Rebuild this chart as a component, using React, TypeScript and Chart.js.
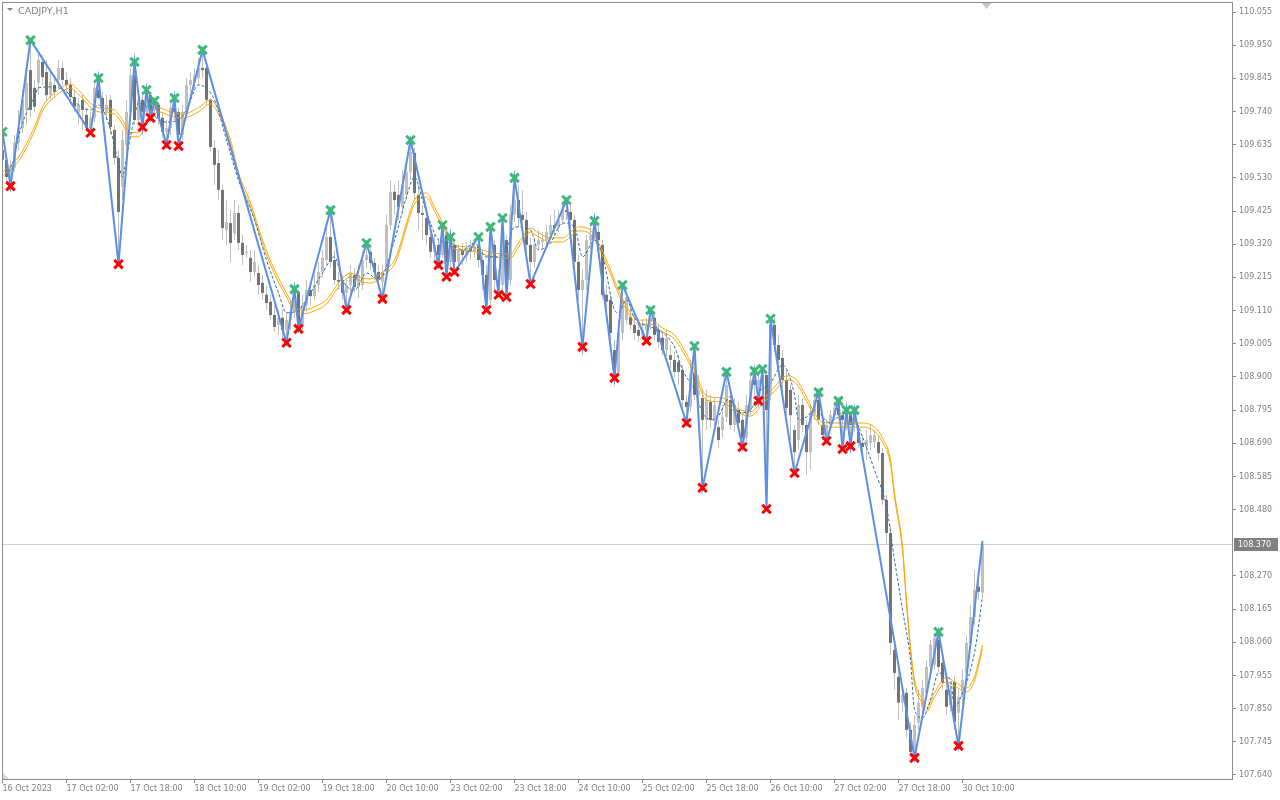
import React, { useEffect, useRef } from "react";
import { Chart, registerables } from "chart.js";

Chart.register(...registerables);

const SYMBOL_TITLE = "CADJPY,H1";
const BID_PRICE = 108.37;

const Y_TICKS = [110.055, 109.95, 109.845, 109.74, 109.635, 109.53, 109.425, 109.32, 109.215, 109.11, 109.005, 108.9, 108.795, 108.69, 108.585, 108.48, 108.27, 108.165, 108.06, 107.955, 107.85, 107.745, 107.64];

const X_TICK_BARS = [0, 16, 32, 48, 64, 80, 96, 112, 128, 144, 160, 176, 192, 208, 224, 240];
const X_TICK_LABELS = ["16 Oct 2023", "17 Oct 02:00", "17 Oct 18:00", "18 Oct 10:00", "19 Oct 02:00", "19 Oct 18:00", "20 Oct 10:00", "23 Oct 02:00", "23 Oct 18:00", "24 Oct 10:00", "25 Oct 02:00", "25 Oct 18:00", "26 Oct 10:00", "27 Oct 02:00", "27 Oct 18:00", "30 Oct 10:00"];

const BAR_OPEN = [109.618,109.587,109.533,109.562,109.641,109.688,109.745,109.871,109.815,109.831,109.897,109.865,109.792,109.824,109.840,109.878,109.840,109.824,109.786,109.736,109.777,109.729,109.688,109.720,109.808,109.783,109.739,109.777,109.682,109.593,109.501,109.634,109.739,109.855,109.713,109.777,109.739,109.792,109.745,109.761,109.720,109.676,109.688,109.752,109.739,109.666,109.745,109.824,109.834,109.846,109.878,109.878,109.777,109.625,109.577,109.492,109.365,109.387,109.355,109.419,109.324,109.292,109.277,109.232,109.229,109.198,109.160,109.138,109.096,109.065,109.087,109.049,109.080,109.106,109.169,109.065,109.128,109.175,109.156,109.191,109.232,109.270,109.343,109.270,109.207,109.207,109.166,109.191,109.223,109.185,109.191,109.270,109.296,109.261,109.232,109.201,109.232,109.381,109.486,109.476,109.438,109.476,109.549,109.609,109.476,109.419,109.403,109.343,109.296,109.318,109.286,109.349,109.264,109.318,109.264,109.302,109.286,109.308,109.296,109.314,109.270,109.223,109.144,109.318,109.207,109.191,109.333,109.207,109.413,109.460,109.413,109.397,109.318,109.264,109.318,109.327,109.333,109.349,109.381,109.371,109.397,109.428,109.422,109.397,109.264,109.175,109.207,109.333,109.349,109.359,109.318,109.160,109.144,108.985,108.913,109.039,109.080,109.090,109.065,109.049,109.030,109.049,109.074,109.087,109.049,109.024,108.985,108.969,108.954,108.947,108.922,108.821,108.805,108.913,108.843,108.833,108.764,108.821,108.764,108.741,108.732,108.773,108.827,108.748,108.795,108.764,108.707,108.795,108.890,108.875,108.890,108.906,108.843,109.065,109.001,108.960,108.890,108.859,108.732,108.700,108.811,108.748,108.662,108.786,108.827,108.748,108.716,108.748,108.779,108.802,108.779,108.764,108.779,108.748,108.726,108.691,108.678,108.691,108.694,108.694,108.659,108.511,108.406,108.036,107.951,107.869,107.900,107.783,107.713,107.805,107.856,107.900,107.982,107.989,108.068,107.995,107.910,107.862,107.935,107.837,107.887,107.963,108.058,108.140,108.236,108.217];

const BAR_HIGH = [109.676,109.602,109.587,109.666,109.745,109.808,109.871,109.966,109.840,109.929,109.919,109.903,109.871,109.855,109.903,109.897,109.865,109.846,109.808,109.783,109.792,109.752,109.739,109.840,109.846,109.802,109.792,109.792,109.697,109.618,109.682,109.777,109.878,109.897,109.792,109.792,109.808,109.802,109.774,109.771,109.739,109.713,109.771,109.783,109.752,109.761,109.846,109.865,109.878,109.910,109.935,109.897,109.783,109.650,109.618,109.508,109.460,109.428,109.460,109.444,109.349,109.318,109.302,109.302,109.254,109.223,109.191,109.160,109.128,109.112,109.112,109.106,109.144,109.178,109.175,109.160,109.207,109.198,109.223,109.264,109.302,109.381,109.428,109.302,109.232,109.223,109.207,109.254,109.245,109.254,109.296,109.324,109.308,109.277,109.254,109.254,109.413,109.523,109.508,109.523,109.555,109.587,109.650,109.625,109.508,109.444,109.428,109.381,109.349,109.340,109.381,109.365,109.343,109.333,109.318,109.324,109.327,109.333,109.333,109.343,109.302,109.254,109.375,109.333,109.239,109.403,109.349,109.444,109.530,109.508,109.492,109.422,109.340,109.340,109.365,109.359,109.381,109.413,109.428,109.428,109.454,109.460,109.444,109.413,109.286,109.239,109.349,109.381,109.394,109.381,109.333,109.191,109.160,109.017,109.080,109.191,109.175,109.128,109.096,109.074,109.080,109.087,109.112,109.106,109.065,109.043,109.049,109.001,108.979,108.969,108.938,108.843,108.954,108.998,108.906,108.859,108.859,108.843,108.833,108.764,108.811,108.916,108.859,108.833,108.821,108.789,108.843,108.906,108.919,108.906,108.925,108.916,109.084,109.087,109.033,108.985,108.922,108.875,108.748,108.843,108.833,108.764,108.811,108.843,108.852,108.770,108.764,108.795,108.821,108.824,108.795,108.795,108.789,108.795,108.748,108.716,108.732,108.748,108.732,108.716,108.675,108.527,108.432,108.068,107.989,107.925,107.916,107.808,107.830,107.910,107.941,108.004,108.068,108.090,108.093,108.020,107.941,107.935,107.954,107.910,107.973,108.083,108.178,108.289,108.258,108.381];

const BAR_LOW = [109.571,109.517,109.504,109.549,109.618,109.673,109.697,109.720,109.739,109.792,109.824,109.777,109.777,109.783,109.815,109.824,109.792,109.771,109.739,109.697,109.682,109.676,109.673,109.707,109.777,109.720,109.713,109.666,109.571,109.257,109.460,109.602,109.713,109.697,109.694,109.691,109.729,109.720,109.729,109.697,109.657,109.634,109.666,109.713,109.631,109.650,109.729,109.802,109.815,109.824,109.846,109.761,109.612,109.508,109.460,109.333,109.318,109.264,109.333,109.302,109.254,109.277,109.201,109.214,109.160,109.144,109.112,109.080,109.043,109.033,109.024,109.008,109.049,109.087,109.052,109.049,109.106,109.128,109.144,109.169,109.214,109.254,109.245,109.191,109.175,109.144,109.112,109.160,109.169,109.150,109.175,109.245,109.239,109.207,109.175,109.147,109.207,109.365,109.413,109.397,109.413,109.460,109.523,109.460,109.365,109.333,109.318,109.277,109.264,109.254,109.277,109.217,109.245,109.232,109.245,109.254,109.264,109.270,109.277,109.245,109.175,109.112,109.128,109.175,109.160,109.175,109.153,109.191,109.390,109.371,109.333,109.286,109.194,109.245,109.302,109.308,109.318,109.333,109.349,109.359,109.381,109.397,109.365,109.239,109.144,108.995,109.175,109.302,109.333,109.308,109.144,109.112,108.998,108.897,108.897,109.017,109.065,109.049,109.017,109.011,109.017,109.014,109.049,109.017,108.992,108.969,108.966,108.928,108.897,108.875,108.795,108.754,108.789,108.827,108.811,108.549,108.732,108.738,108.726,108.675,108.707,108.757,108.732,108.726,108.732,108.678,108.694,108.779,108.843,108.824,108.859,108.482,108.827,108.979,108.922,108.852,108.779,108.700,108.596,108.669,108.726,108.590,108.605,108.764,108.748,108.700,108.697,108.732,108.764,108.764,108.672,108.732,108.681,108.726,108.675,108.653,108.637,108.669,108.675,108.637,108.495,108.368,108.020,107.910,107.815,107.840,107.758,107.698,107.694,107.783,107.830,107.878,107.957,107.973,107.966,107.910,107.830,107.840,107.783,107.732,107.862,107.941,108.036,108.115,108.194,108.201];

const BAR_CLOSE = [109.587,109.533,109.562,109.641,109.688,109.777,109.831,109.745,109.755,109.903,109.849,109.792,109.834,109.802,109.878,109.840,109.824,109.786,109.755,109.761,109.745,109.688,109.720,109.815,109.783,109.739,109.761,109.691,109.593,109.422,109.650,109.739,109.855,109.713,109.777,109.739,109.792,109.745,109.761,109.720,109.676,109.688,109.752,109.739,109.666,109.739,109.824,109.840,109.855,109.878,109.871,109.777,109.628,109.571,109.492,109.371,109.390,109.324,109.419,109.324,109.286,109.296,109.232,109.264,109.191,109.166,109.134,109.096,109.058,109.087,109.049,109.080,109.106,109.169,109.065,109.128,109.175,109.156,109.191,109.232,109.277,109.343,109.264,109.207,109.201,109.166,109.191,109.229,109.185,109.223,109.270,109.286,109.261,109.232,109.207,109.232,109.381,109.486,109.460,109.438,109.508,109.549,109.612,109.482,109.419,109.413,109.349,109.296,109.318,109.286,109.349,109.264,109.318,109.264,109.302,109.286,109.308,109.296,109.314,109.270,109.223,109.138,109.333,109.207,109.191,109.333,109.207,109.413,109.460,109.403,109.397,109.318,109.264,109.318,109.333,109.333,109.359,109.381,109.371,109.397,109.428,109.422,109.397,109.264,109.175,109.207,109.333,109.349,109.365,109.333,109.160,109.138,109.039,108.913,109.039,109.144,109.153,109.065,109.039,109.030,109.049,109.065,109.087,109.033,109.011,108.985,109.024,108.954,108.916,108.916,108.827,108.805,108.913,108.843,108.859,108.764,108.827,108.764,108.811,108.700,108.773,108.875,108.748,108.811,108.754,108.707,108.811,108.890,108.875,108.890,108.906,108.795,109.065,109.001,108.954,108.890,108.802,108.779,108.662,108.811,108.748,108.662,108.786,108.827,108.764,108.716,108.748,108.779,108.802,108.779,108.764,108.779,108.748,108.764,108.691,108.678,108.700,108.716,108.716,108.659,108.511,108.406,108.058,107.963,107.869,107.894,107.783,107.713,107.799,107.869,107.916,107.982,108.052,108.074,107.982,107.932,107.856,107.910,107.808,107.887,107.941,108.058,108.140,108.226,108.220,108.370];

const PIVOT_HIGH_BARS = [0, 7, 24, 33, 36, 38, 43, 50, 73, 82, 91, 102, 110, 112, 119, 122, 125, 128, 141, 148, 155, 162, 173, 181, 188, 190, 192, 204, 209, 211, 213, 234];
const PIVOT_LOW_BARS = [2, 22, 29, 35, 37, 41, 44, 71, 74, 86, 95, 109, 111, 113, 121, 124, 126, 132, 145, 153, 161, 171, 175, 185, 189, 191, 198, 206, 210, 212, 228, 239];

const ORANGE_BARS = [0,4,8,10,13,15,17,19,22,24,28,30,32,34,36,39,42,45,49,52,54,57,59,62,65,68,71,73,75,78,81,84,87,90,92,95,98,99,101,103,106,108,111,113,117,120,123,127,129,132,134,137,140,144,147,149,152,154,157,159,162,165,168,170,173,176,180,183,187,190,193,196,198,201,203,205,208,215,218,220,222,223,225,226,227,228,230,231,233,236,238,241,243,245];
const ORANGE_UPPER = [109.549,109.596,109.691,109.755,109.799,109.818,109.827,109.808,109.767,109.752,109.745,109.713,109.673,109.673,109.713,109.752,109.739,109.732,109.752,109.777,109.745,109.650,109.546,109.451,109.333,109.239,109.166,109.122,109.112,109.122,109.144,109.197,109.229,109.213,109.210,109.232,109.270,109.302,109.387,109.460,109.482,109.438,109.365,109.318,109.311,109.302,109.292,109.289,109.324,109.371,109.356,109.340,109.340,109.375,109.365,109.324,109.239,109.175,109.103,109.080,109.080,109.055,109.033,108.995,108.922,108.840,108.833,108.805,108.789,108.827,108.868,108.903,108.897,108.837,108.786,108.757,108.754,108.754,108.741,108.707,108.637,108.533,108.362,108.194,108.045,107.941,107.878,107.853,107.900,107.948,107.935,107.916,107.951,108.052];
const ORANGE_LOWER = [109.536,109.583,109.678,109.742,109.786,109.805,109.814,109.795,109.754,109.739,109.732,109.700,109.660,109.660,109.700,109.739,109.726,109.719,109.739,109.764,109.732,109.637,109.533,109.438,109.320,109.226,109.153,109.109,109.099,109.109,109.131,109.184,109.216,109.200,109.197,109.219,109.257,109.289,109.374,109.447,109.469,109.425,109.352,109.305,109.298,109.289,109.279,109.276,109.311,109.358,109.343,109.327,109.327,109.362,109.352,109.311,109.226,109.162,109.090,109.067,109.067,109.042,109.020,108.982,108.909,108.827,108.820,108.792,108.776,108.814,108.855,108.890,108.884,108.824,108.773,108.744,108.741,108.741,108.728,108.694,108.624,108.520,108.349,108.181,108.032,107.928,107.865,107.840,107.887,107.935,107.922,107.903,107.938,108.039];

const FAST_MA_BARS = [1,3,4,6,8,9,12,14,17,19,22,24,27,29,30,31,33,34,37,39,41,44,46,49,53,56,59,63,66,69,71,74,77,80,83,85,88,91,94,98,101,103,105,107,109,112,115,118,121,123,126,128,132,134,137,140,143,145,148,150,153,154,156,158,162,164,168,170,173,175,178,182,184,187,189,192,195,198,199,201,203,207,209,213,215,218,221,223,225,227,228,230,232,234,237,238,240,243,245];
const FAST_MA = [109.533,109.596,109.660,109.736,109.786,109.815,109.818,109.815,109.792,109.761,109.745,109.761,109.682,109.577,109.533,109.596,109.723,109.767,109.745,109.713,109.707,109.713,109.745,109.824,109.777,109.650,109.523,109.397,109.270,109.166,109.103,109.112,109.166,109.229,109.280,109.207,109.175,109.229,109.207,109.333,109.470,109.533,109.460,109.387,109.333,109.324,109.302,109.324,109.280,109.280,109.302,109.375,109.365,109.302,109.324,109.387,109.375,109.280,109.333,109.286,109.112,109.103,109.144,109.087,109.058,109.049,108.995,108.922,108.859,108.786,108.764,108.837,108.786,108.795,108.849,108.881,108.938,108.843,108.764,108.773,108.795,108.754,108.773,108.764,108.710,108.605,108.489,108.321,108.163,108.004,107.846,107.821,107.878,107.963,107.941,107.856,107.900,108.027,108.204];

const BULL_COLOR = "#c0c0c0";
const BEAR_COLOR = "#737373";
const WICK_COLOR = "#c0c0c0";
const AXIS_COLOR = "#8c8c8c";
const TEXT_COLOR = "#7f7f8c";
const FONT_FAMILY = "'DejaVu Sans', Tahoma, sans-serif";

export default function App() {
  const canvasRef = useRef<HTMLCanvasElement | null>(null);

  useEffect(() => {
    document.body.style.margin = "0";
    const canvas = canvasRef.current;
    if (!canvas) return;

    const idx = BAR_CLOSE.map((_, i) => i);
    const colorOf = (i: number) => (BAR_CLOSE[i] >= BAR_OPEN[i] ? BULL_COLOR : BEAR_COLOR);
    const wickData = idx.map((i) => ({ x: i, y: [BAR_LOW[i], BAR_HIGH[i]] }));
    const bodyData = idx.map((i) => ({ x: i, y: [BAR_OPEN[i], BAR_CLOSE[i]] }));
    const barColors = idx.map(colorOf);

    const highPts = PIVOT_HIGH_BARS.map((i) => ({ x: i, y: BAR_HIGH[i] }));
    const lowPts = PIVOT_LOW_BARS.map((i) => ({ x: i, y: BAR_LOW[i] }));
    const last = BAR_CLOSE.length - 1;
    const zigzag = [...highPts, ...lowPts, { x: last, y: BAR_HIGH[last] }].sort((a, b) => a.x - b.x);

    const orangeUp = ORANGE_BARS.map((b, k) => ({ x: b, y: ORANGE_UPPER[k] }));
    const orangeDn = ORANGE_BARS.map((b, k) => ({ x: b, y: ORANGE_LOWER[k] }));
    const fastMa = FAST_MA_BARS.map((b, k) => ({ x: b, y: FAST_MA[k] }));

    const framePlugin = {
      id: "mtFrame",
      beforeDatasetsDraw(chart: any) {
        const { ctx, chartArea, scales } = chart;
        const y = Math.round(scales.y.getPixelForValue(BID_PRICE)) + 0.5;
        ctx.save();
        ctx.strokeStyle = "#d0d0d0";
        ctx.lineWidth = 1;
        ctx.beginPath();
        ctx.moveTo(chartArea.left, y);
        ctx.lineTo(chartArea.right, y);
        ctx.stroke();
        ctx.restore();
      },
      afterDraw(chart: any) {
        const { ctx, chartArea, scales } = chart;
        ctx.save();
        ctx.strokeStyle = AXIS_COLOR;
        ctx.lineWidth = 1;
        ctx.strokeRect(chartArea.left + 0.5, chartArea.top + 0.5, chartArea.right - chartArea.left, chartArea.bottom - chartArea.top);
        const y = Math.round(scales.y.getPixelForValue(BID_PRICE));
        ctx.fillStyle = "#808080";
        ctx.fillRect(chartArea.right + 2, y - 6, 44, 13);
        ctx.fillStyle = "#ffffff";
        ctx.font = "8px " + FONT_FAMILY;
        ctx.textBaseline = "middle";
        ctx.textAlign = "left";
        ctx.fillText(BID_PRICE.toFixed(3), chartArea.right + 6, y + 0.5);
        const sx = scales.x.getPixelForValue(last + 1);
        ctx.fillStyle = "#c8c8c8";
        ctx.beginPath();
        ctx.moveTo(sx - 5, chartArea.top + 1);
        ctx.lineTo(sx + 5, chartArea.top + 1);
        ctx.lineTo(sx, chartArea.top + 7);
        ctx.closePath();
        ctx.fill();
        ctx.fillStyle = "#808080";
        ctx.beginPath();
        ctx.moveTo(chartArea.left + 5, chartArea.top + 6);
        ctx.lineTo(chartArea.left + 11, chartArea.top + 6);
        ctx.lineTo(chartArea.left + 8, chartArea.top + 9);
        ctx.closePath();
        ctx.fill();
        ctx.fillStyle = "#d8d8d8";
        ctx.beginPath();
        ctx.moveTo(chartArea.left + 1, chartArea.bottom - 6);
        ctx.lineTo(chartArea.left + 7, chartArea.bottom);
        ctx.lineTo(chartArea.left + 1, chartArea.bottom);
        ctx.closePath();
        ctx.fill();
        ctx.restore();
      },
    };

    const chart = new Chart(canvas, {
      type: "line",
      data: {
        datasets: [
          {
            type: "line",
            label: "highs",
            data: highPts,
            showLine: false,
            pointStyle: "crossRot",
            pointRadius: 6,
            pointBorderWidth: 3,
            pointBorderColor: "#3cb878",
            pointBackgroundColor: "#3cb878",
            order: 0,
          },
          {
            type: "line",
            label: "lows",
            data: lowPts,
            showLine: false,
            pointStyle: "crossRot",
            pointRadius: 6,
            pointBorderWidth: 3,
            pointBorderColor: "#ff0000",
            pointBackgroundColor: "#ff0000",
            order: 1,
          },
          {
            type: "line",
            label: "zigzag",
            data: zigzag,
            borderColor: "#5b8fe6",
            borderWidth: 2,
            pointRadius: 0,
            tension: 0,
            order: 2,
          },
          {
            type: "line",
            label: "fast",
            data: fastMa,
            borderColor: "#2e6da8",
            borderWidth: 1,
            borderDash: [3, 2],
            pointRadius: 0,
            cubicInterpolationMode: "monotone",
            order: 3,
          },
          {
            type: "line",
            label: "bandUp",
            data: orangeUp,
            borderColor: "#ffa500",
            borderWidth: 1,
            pointRadius: 0,
            cubicInterpolationMode: "monotone",
            order: 4,
          },
          {
            type: "line",
            label: "bandDn",
            data: orangeDn,
            borderColor: "#ffa500",
            borderWidth: 1,
            pointRadius: 0,
            cubicInterpolationMode: "monotone",
            order: 5,
          },
          {
            type: "bar",
            label: "bodies",
            data: bodyData,
            backgroundColor: barColors,
            barThickness: 3,
            minBarLength: 1,
            grouped: false,
            inflateAmount: 0,
            borderWidth: 0,
            order: 6,
          },
          {
            type: "bar",
            label: "wicks",
            data: wickData,
            backgroundColor: WICK_COLOR,
            barThickness: 1,
            grouped: false,
            inflateAmount: 0,
            borderWidth: 0,
            order: 7,
          },
        ],
      },
      options: {
        responsive: false,
        devicePixelRatio: 1,
        animation: false,
        events: [],
        layout: { autoPadding: false, padding: { left: 2, top: 2, right: 0, bottom: 0 } },
        plugins: { legend: { display: false }, tooltip: { enabled: false }, title: { display: false } },
        scales: {
          x: {
            type: "linear",
            min: -0.125,
            max: 307.375,
            offset: false,
            afterFit: (s: any) => {
              s.height = 21;
              s.paddingLeft = 0;
              s.paddingRight = 0;
            },
            afterBuildTicks: (s: any) => {
              s.ticks = X_TICK_BARS.map((v) => ({ value: v }));
            },
            grid: { display: true, drawOnChartArea: false, drawTicks: true, tickLength: 4, color: AXIS_COLOR, offset: false },
            border: { display: false },
            ticks: {
              autoSkip: false,
              maxRotation: 0,
              minRotation: 0,
              align: "start",
              padding: 1,
              color: TEXT_COLOR,
              font: { family: FONT_FAMILY, size: 8 },
              callback: (v: any) => {
                const k = X_TICK_BARS.indexOf(Number(v));
                return k >= 0 ? X_TICK_LABELS[k] : "";
              },
            },
          },
          y: {
            type: "linear",
            position: "right",
            min: 107.6273,
            max: 110.0867,
            afterFit: (s: any) => {
              s.width = 48;
              s.paddingTop = 0;
              s.paddingBottom = 0;
            },
            afterBuildTicks: (s: any) => {
              s.ticks = Y_TICKS.map((v) => ({ value: v }));
            },
            grid: { display: true, drawOnChartArea: false, drawTicks: true, tickLength: 4, color: AXIS_COLOR },
            border: { display: false },
            ticks: {
              autoSkip: false,
              padding: 3,
              color: TEXT_COLOR,
              font: { family: FONT_FAMILY, size: 8 },
              callback: (v: any) => Number(v).toFixed(3),
            },
          },
        },
      },
      plugins: [framePlugin],
    } as any);

    return () => {
      chart.destroy();
    };
  }, []);

  return (
    <div style={{ position: "relative", width: 1280, height: 800, background: "#ffffff", overflow: "hidden" }}>
      <canvas ref={canvasRef} width={1280} height={800} style={{ display: "block" }} />
      <span
        style={{
          position: "absolute",
          left: 18,
          top: 5,
          fontFamily: FONT_FAMILY,
          fontSize: 9.5,
          color: "#808080",
          lineHeight: "11px",
          whiteSpace: "nowrap",
        }}
      >
        {SYMBOL_TITLE}
      </span>
    </div>
  );
}
